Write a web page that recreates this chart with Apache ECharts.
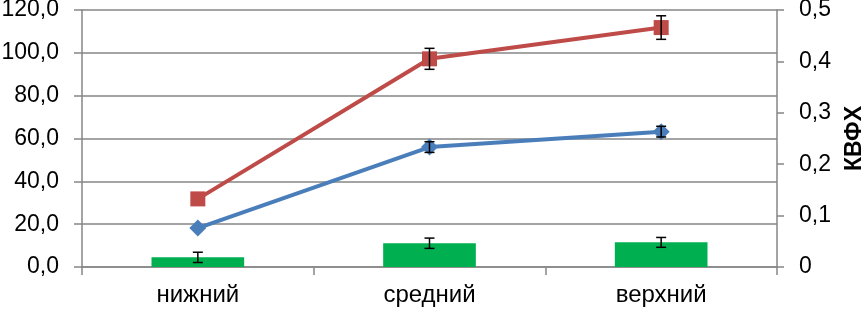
<!DOCTYPE html>
<html><head><meta charset="utf-8">
<script src="https://cdn.jsdelivr.net/npm/echarts@6/dist/echarts.min.js"></script>
<style>html,body{margin:0;padding:0;background:#fff}#c{width:864px;height:311px}</style>
</head><body><div id="c"></div>
<script>
var categories = ['нижний', 'средний', 'верхний'];
var redValues = [31.8, 97.2, 111.8];
var redErrors = [0, 4.9, 5.5];
var blueValues = [18.2, 56.0, 63.2];
var blueErrors = [0, 2.5, 2.5];
var greenValues = [4.5, 11.1, 11.5];
var greenErrors = [2.4, 2.4, 2.3];
var leftTicks = {min: 0, max: 120, interval: 20};
var rightTicks = {min: 0, max: 0.5, interval: 0.1};

function errData(vals, errs) {
  return vals.map(function (v, i) { return [i, v - errs[i], v + errs[i], errs[i]]; });
}
function errSeries(vals, errs, z) {
  return {
    type: 'custom', yAxisIndex: 0, z: z, silent: true,
    data: errData(vals, errs),
    renderItem: function (params, api) {
      if (!api.value(3)) return null;
      var x = api.value(0);
      var lo = api.coord([x, api.value(1)]);
      var hi = api.coord([x, api.value(2)]);
      var hw = 5;
      var st = {stroke: '#000', lineWidth: 1.5};
      return {type: 'group', children: [
        {type: 'line', shape: {x1: lo[0], y1: lo[1], x2: hi[0], y2: hi[1]}, style: st},
        {type: 'line', shape: {x1: lo[0] - hw, y1: lo[1], x2: lo[0] + hw, y2: lo[1]}, style: st},
        {type: 'line', shape: {x1: hi[0] - hw, y1: hi[1], x2: hi[0] + hw, y2: hi[1]}, style: st}
      ]};
    }
  };
}
var font = 'Liberation Sans, Arial, sans-serif';
var chart = echarts.init(document.getElementById('c'));
chart.setOption({
  animation: false,
  grid: {left: 82, right: 87, top: 10, bottom: 44, containLabel: false, outerBoundsMode: 'none'},
  xAxis: {
    type: 'category', data: categories, boundaryGap: true,
    axisLine: {lineStyle: {color: '#868686', width: 1.5}},
    axisTick: {show: true, length: 8, lineStyle: {color: '#868686', width: 1.5}},
    axisLabel: {color: '#000', fontSize: 24, fontFamily: font, margin: 16}
  },
  yAxis: [{
    type: 'value', min: leftTicks.min, max: leftTicks.max, interval: leftTicks.interval,
    axisLine: {show: true, lineStyle: {color: '#868686', width: 1.5}},
    axisTick: {show: true, length: 8, lineStyle: {color: '#868686', width: 1.5}},
    splitLine: {show: true, lineStyle: {color: '#868686', width: 1.5}},
    axisLabel: {color: '#000', fontSize: 23, fontFamily: font, margin: 23,
      formatter: function (v) { return v.toFixed(1).replace('.', ','); }}
  }, {
    type: 'value', min: rightTicks.min, max: rightTicks.max, interval: rightTicks.interval,
    position: 'right',
    name: 'КВФХ', nameLocation: 'middle', nameRotate: 90, nameGap: 66,
    nameTextStyle: {color: '#000', fontSize: 23, fontWeight: 'bold', fontFamily: font},
    axisLine: {show: true, lineStyle: {color: '#868686', width: 1.5}},
    axisTick: {show: true, length: 7, lineStyle: {color: '#868686', width: 1.5}},
    splitLine: {show: false},
    axisLabel: {color: '#000', fontSize: 23, fontFamily: font, margin: 22,
      formatter: function (v) { return v === 0 ? '0' : v.toFixed(1).replace('.', ','); }}
  }],
  series: [
    {type: 'bar', yAxisIndex: 0, data: greenValues, barWidth: '40%', itemStyle: {color: '#00B050'}, z: 2},
    errSeries(greenValues, greenErrors, 3),
    {type: 'line', yAxisIndex: 0, data: blueValues, symbol: 'diamond', symbolSize: 17,
      lineStyle: {color: '#4A7EBB', width: 4}, itemStyle: {color: '#4A7EBB'}, z: 4},
    errSeries(blueValues, blueErrors, 5),
    {type: 'line', yAxisIndex: 0, data: redValues, symbol: 'rect', symbolSize: 15,
      lineStyle: {color: '#BE4B48', width: 4}, itemStyle: {color: '#BE4B48'}, z: 6},
    errSeries(redValues, redErrors, 7)
  ]
});
</script></body></html>
